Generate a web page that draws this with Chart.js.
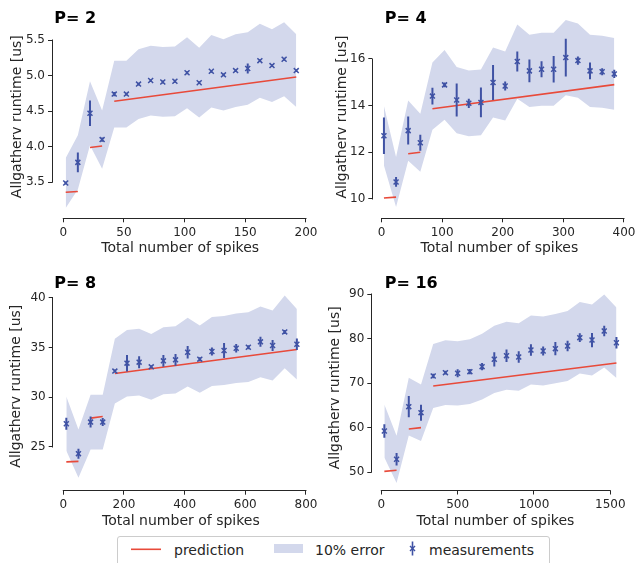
<!DOCTYPE html>
<html>
<head>
<meta charset="utf-8">
<script src="https://cdn.jsdelivr.net/npm/chart.js@4.4.1/dist/chart.umd.min.js"></script>
<style>
  html, body { margin:0; padding:0; background:#ffffff; }
  body { width:637px; height:563px; position:relative; overflow:hidden; font-family:'DejaVu Sans', sans-serif; }
  canvas { position:absolute; }
  .lg { position:absolute; font-size:14px; line-height:16px; color:#262626; white-space:nowrap; }
</style>
</head>
<body>
<canvas id="c1" width="318" height="260" style="left:0px;top:0px;width:318px;height:260px"></canvas>
<canvas id="c2" width="319" height="260" style="left:318px;top:0px;width:319px;height:260px"></canvas>
<canvas id="c3" width="318" height="270" style="left:0px;top:260px;width:318px;height:270px"></canvas>
<canvas id="c4" width="319" height="270" style="left:318px;top:260px;width:319px;height:270px"></canvas>

<div style="position:absolute;left:117px;top:536px;width:433px;height:40px;border:1px solid #cccccc;border-radius:3px;background:#fff;box-sizing:border-box;"></div>
<svg style="position:absolute;left:128px;top:544px;" width="36" height="10" viewBox="0 0 36 10">
  <line x1="3" y1="5.3" x2="33" y2="5.3" stroke="#e84a3a" stroke-width="1.6"/>
</svg>
<div class="lg" style="left:174px;top:541.5px;">prediction</div>
<div style="position:absolute;left:274px;top:544px;width:29px;height:9px;background:#d3d8ec;"></div>
<div class="lg" style="left:315px;top:541.5px;">10% error</div>
<svg style="position:absolute;left:406px;top:540px;" width="13" height="18" viewBox="0 0 13 18">
  <line x1="6.5" y1="1.5" x2="6.5" y2="15.5" stroke="#3f52a4" stroke-width="1.6"/>
  <line x1="4" y1="6" x2="9" y2="11" stroke="#3f52a4" stroke-width="1.4"/>
  <line x1="9" y1="6" x2="4" y2="11" stroke="#3f52a4" stroke-width="1.4"/>
</svg>
<div class="lg" style="left:429px;top:541.5px;">measurements</div>

<script>
// ---------------- DATA ----------------
const titles = ['P= 2', 'P= 4', 'P= 8', 'P= 16'];
const xLabel = 'Total number of spikes';
const yLabel = 'Allgatherv runtime [us]';

// P = 2
const x1 = [2,12,22,32,42,52,62,72,82,92,102,112,122,132,142,152,162,172,182,192];
const meas1 = [3.49,3.78,4.47,4.10,4.74,4.74,4.88,4.93,4.91,4.92,5.04,4.90,5.06,5.01,5.07,5.10,5.21,5.14,5.23,5.07];
const err1 = [0.02,0.14,0.18,0.03,0.03,0.02,0.02,0.02,0.02,0.02,0.02,0.02,0.02,0.02,0.02,0.07,0.02,0.02,0.02,0.02];
const bandHi1 = [3.84,4.16,4.92,4.51,5.21,5.21,5.37,5.42,5.40,5.41,5.54,5.39,5.57,5.51,5.58,5.61,5.73,5.65,5.75,5.58];
const bandLo1 = [3.14,3.40,4.02,3.69,4.27,4.27,4.39,4.44,4.42,4.43,4.54,4.41,4.55,4.51,4.56,4.59,4.69,4.63,4.71,4.56];
const predX1 = [[2,12],[22,32],[42,192]];
const predY1 = [[3.36,3.37],[3.99,4.01],[4.64,4.98]];
const xTicks1 = [0,50,100,150,200];
const xTickLabels1 = ['0','50','100','150','200'];
const yTicks1 = [3.5,4.0,4.5,5.0,5.5];
const yTickLabels1 = ['3.5','4.0','4.5','5.0','5.5'];

// P = 4
const x2 = [4,24,44,64,84,104,124,144,164,184,204,224,244,264,284,304,324,344,364,384];
const meas2 = [12.71,10.73,12.93,12.41,14.41,14.89,14.24,14.10,14.14,14.99,14.84,15.89,15.49,15.56,15.56,16.06,15.93,15.49,15.45,15.36];
const err2 = [0.78,0.21,0.60,0.34,0.36,0.10,0.71,0.20,0.64,0.75,0.19,0.43,0.49,0.34,0.57,0.81,0.18,0.36,0.15,0.18];
const bandHi2 = [13.98,11.80,14.22,13.65,15.85,16.38,15.66,15.51,15.55,16.49,16.32,17.48,17.04,17.12,17.12,17.67,17.52,17.04,17.00,16.90];
const bandLo2 = [11.44,9.66,11.64,11.17,12.97,13.40,12.82,12.69,12.73,13.49,13.36,14.30,13.94,14.00,14.00,14.45,14.34,13.94,13.91,13.82];
const predX2 = [[4,24],[44,64],[84,384]];
const predY2 = [[10.04,10.08],[11.94,12.00],[13.87,14.90]];
const xTicks2 = [0,100,200,300,400];
const xTickLabels2 = ['0','100','200','300','400'];
const yTicks2 = [10,12,14,16];
const yTickLabels2 = ['10','12','14','16'];

// P = 8
const x3 = [10,50,90,130,170,210,250,290,330,370,410,450,490,530,570,610,650,690,730,770];
const meas3 = [27.34,24.33,27.50,27.50,32.62,33.42,33.52,33.05,33.65,33.75,34.52,33.82,34.59,34.69,34.92,35.02,35.56,35.19,36.56,35.32];
const err3 = [0.60,0.50,0.55,0.40,0.15,0.83,0.60,0.15,0.58,0.60,0.63,0.20,0.40,0.75,0.42,0.20,0.50,0.55,0.20,0.58];
const bandHi3 = [30.07,26.76,30.25,30.25,35.88,36.76,36.87,36.36,37.02,37.13,37.97,37.20,38.05,38.16,38.41,38.52,39.12,38.71,40.22,38.85];
const bandLo3 = [24.61,21.90,24.75,24.75,29.36,30.08,30.17,29.75,30.29,30.38,31.07,30.44,31.13,31.22,31.43,31.52,32.00,31.67,32.90,31.79];
const predX3 = [[10,50],[90,130],[170,770]];
const predY3 = [[23.50,23.56],[27.90,28.07],[32.38,34.79]];
const xTicks3 = [0,200,400,600,800];
const xTickLabels3 = ['0','200','400','600','800'];
const yTicks3 = [25,30,35,40];
const yTickLabels3 = ['25','30','35','40'];

// P = 16
const x4 = [20,100,180,260,340,420,500,580,660,740,820,900,980,1060,1140,1220,1300,1380,1460,1540];
const meas4 = [59.27,52.92,64.73,63.38,71.61,72.36,72.21,72.58,73.70,75.35,76.17,75.87,77.44,77.21,77.74,78.34,80.21,79.68,81.70,79.08];
const err4 = [1.5,1.4,2.4,1.8,0.5,0.4,0.9,0.6,0.8,1.6,1.4,1.3,1.3,1.0,1.5,1.2,1.0,1.6,1.2,1.3];
const bandHi4 = [65.20,58.21,71.20,69.72,78.77,79.60,79.43,79.84,81.07,82.89,83.79,83.46,85.18,84.93,85.51,86.17,88.23,87.65,89.87,86.99];
const bandLo4 = [53.34,47.63,58.26,57.04,64.45,65.12,64.99,65.32,66.33,67.82,68.55,68.28,69.70,69.49,69.97,70.51,72.19,71.71,73.53,71.17];
const predX4 = [[20,100],[180,260],[340,1540]];
const predY4 = [[50.22,50.45],[59.72,60.02],[69.36,74.52]];
const xTicks4 = [0,500,1000,1500];
const xTickLabels4 = ['0','500','1000','1500'];
const yTicks4 = [50,60,70,80,90];
const yTickLabels4 = ['50','60','70','80','90'];

// ---------------- STYLE ----------------
const BLUE = '#3f52a4';
const RED = '#e84a3a';
const BAND = '#d3d8ec';
const INK = '#262626';

Chart.defaults.font.family = "'DejaVu Sans', sans-serif";
Chart.defaults.color = INK;

const panels = [
  { id:'c1', W:318, H:260, x:x1, m:meas1, e:err1, hi:bandHi1, lo:bandLo1, px:predX1, py:predY1,
    xt:xTicks1, xtl:xTickLabels1, yt:yTicks1, ytl:yTickLabels1, title:titles[0],
    xmin:-9.3, xmax:202, ymin:2.994, ymax:5.85, left:52.0, right:308.4, top:15.1, bottom:218.3,
    ytPad:8.6, xtPad:3.3, tx:54.3, ty:23.3 },
  { id:'c2', W:319, H:260, x:x2, m:meas2, e:err2, hi:bandHi2, lo:bandLo2, px:predX2, py:predY2,
    xt:xTicks2, xtl:xTickLabels2, yt:yTicks2, ytl:yTickLabels2, title:titles[1],
    xmin:-15.2, xmax:404, ymin:9.173, ymax:17.85, left:54.3, right:308.4, top:15.8, bottom:218.3,
    ytPad:16.1, xtPad:3.3, tx:66.7, ty:23.3 },
  { id:'c3', W:318, H:270, x:x3, m:meas3, e:err3, hi:bandHi3, lo:bandLo3, px:predX3, py:predY3,
    xt:xTicks3, xtl:xTickLabels3, yt:yTicks3, ytl:yTickLabels3, title:titles[2],
    xmin:-34.9, xmax:810, ymin:20.61, ymax:41.6, left:52.7, right:309.0, top:21.7, bottom:230.7,
    ytPad:8.1, xtPad:0.6, tx:54.3, ty:28.3 },
  { id:'c4', W:319, H:270, x:x4, m:meas4, e:err4, hi:bandHi4, lo:bandLo4, px:predX4, py:predY4,
    xt:xTicks4, xtl:xTickLabels4, yt:yTicks4, ytl:yTickLabels4, title:titles[3],
    xmin:-65.5, xmax:1560, ymin:45.92, ymax:92, left:53.3, right:301.5, top:25.1, bottom:230.5,
    ytPad:9.1, xtPad:0.6, tx:66.7, ty:28.3 }
];

const align = (p) => Math.round(p - 0.5) + 0.5;

const spinePlugin = {
  id: 'spines',
  afterDraw(chart) {
    const {ctx, chartArea, scales} = chart;
    const sx = scales.x, sy = scales.y;
    const xt = sx.ticks, yt = sy.ticks;
    ctx.save();
    ctx.strokeStyle = INK;
    ctx.lineWidth = 1;
    ctx.beginPath();
    const yb = align(chartArea.bottom);
    ctx.moveTo(sx.getPixelForValue(xt[0].value) - 0.5, yb);
    ctx.lineTo(sx.getPixelForValue(xt[xt.length - 1].value) + 0.5, yb);
    const xl = align(chartArea.left);
    ctx.moveTo(xl, sy.getPixelForValue(yt[0].value) + 0.5);
    ctx.lineTo(xl, sy.getPixelForValue(yt[yt.length - 1].value) - 0.5);
    ctx.stroke();
    ctx.restore();
  }
};

const titlePlugin = {
  id: 'ptitle',
  afterDraw(chart, args, opts) {
    const ctx = chart.ctx;
    ctx.save();
    ctx.font = "bold 16px 'DejaVu Sans', sans-serif";
    ctx.fillStyle = '#000000';
    ctx.textAlign = 'left';
    ctx.textBaseline = 'alphabetic';
    ctx.fillText(opts.text, opts.x, opts.y);
    ctx.restore();
  }
};

panels.forEach(p => {
  const lo = p.x.map((x, i) => ({x, y: p.lo[i]}));
  const hi = p.x.map((x, i) => ({x, y: p.hi[i]}));
  const pred = [];
  p.px.forEach((seg, k) => {
    seg.forEach((x, j) => pred.push({x, y: p.py[k][j]}));
    if (k < p.px.length - 1) pred.push({x: seg[seg.length - 1], y: null});
  });
  const bars = [];
  p.x.forEach((x, i) => {
    bars.push({x, y: p.m[i] - p.e[i]});
    bars.push({x, y: p.m[i] + p.e[i]});
    bars.push({x, y: null});
  });
  const meas = p.x.map((x, i) => ({x, y: p.m[i]}));

  new Chart(document.getElementById(p.id), {
    type: 'line',
    data: {
      datasets: [
        { label:'lo', data: lo, borderColor:'transparent', borderWidth:0, pointRadius:0, fill:false, order:4 },
        { label:'10% error', data: hi, borderColor:'transparent', borderWidth:0, pointRadius:0, fill:'-1', backgroundColor: BAND, order:3 },
        { label:'prediction', data: pred, borderColor: RED, borderWidth:1.6, pointRadius:0, spanGaps:false, fill:false, order:2 },
        { label:'errors', data: bars, borderColor: BLUE, borderWidth:2, pointRadius:0, spanGaps:false, fill:false, order:1 },
        { label:'measurements', data: meas, showLine:false, pointStyle:'crossRot', pointRadius:3.5,
          borderColor: BLUE, backgroundColor: BLUE, pointBorderWidth:1.5, fill:false, order:0 }
      ]
    },
    options: {
      responsive: false,
      animation: false,
      devicePixelRatio: 1,
      events: [],
      layout: { padding: { left:0, top:p.top, right:p.W - p.right, bottom:0 } },
      plugins: {
        legend: { display:false },
        tooltip: { enabled:false },
        ptitle: { text:p.title, x:p.tx, y:p.ty }
      },
      scales: {
        x: {
          type:'linear', min:p.xmin, max:p.xmax,
          afterBuildTicks: s => { s.ticks = p.xt.map(v => ({value:v})); },
          afterFit: s => { s.height = p.H - p.bottom; s.paddingLeft = 0; s.paddingRight = 0; },
          ticks: { callback: (v, i) => p.xtl[i], maxRotation:0, autoSkip:false, font:{size:12}, color:INK, padding:3 },
          grid: { drawOnChartArea:false, drawTicks:true, tickLength:4, color:INK, lineWidth:1 },
          border: { display:false },
          title: { display:true, text:xLabel, font:{size:14}, color:INK, padding:{top:0, bottom:p.xtPad} }
        },
        y: {
          type:'linear', min:p.ymin, max:p.ymax,
          afterBuildTicks: s => { s.ticks = p.yt.map(v => ({value:v})); },
          afterFit: s => { s.width = p.left; s.paddingTop = 0; s.paddingBottom = 0; },
          ticks: { callback: (v, i) => p.ytl[i], autoSkip:false, font:{size:12}, color:INK, padding:3 },
          grid: { drawOnChartArea:false, drawTicks:true, tickLength:4, color:INK, lineWidth:1 },
          border: { display:false },
          title: { display:true, text:yLabel, font:{size:14}, color:INK, padding:{top:p.ytPad, bottom:0} }
        }
      }
    },
    plugins: [spinePlugin, titlePlugin]
  });
});
</script>
</body>
</html>
